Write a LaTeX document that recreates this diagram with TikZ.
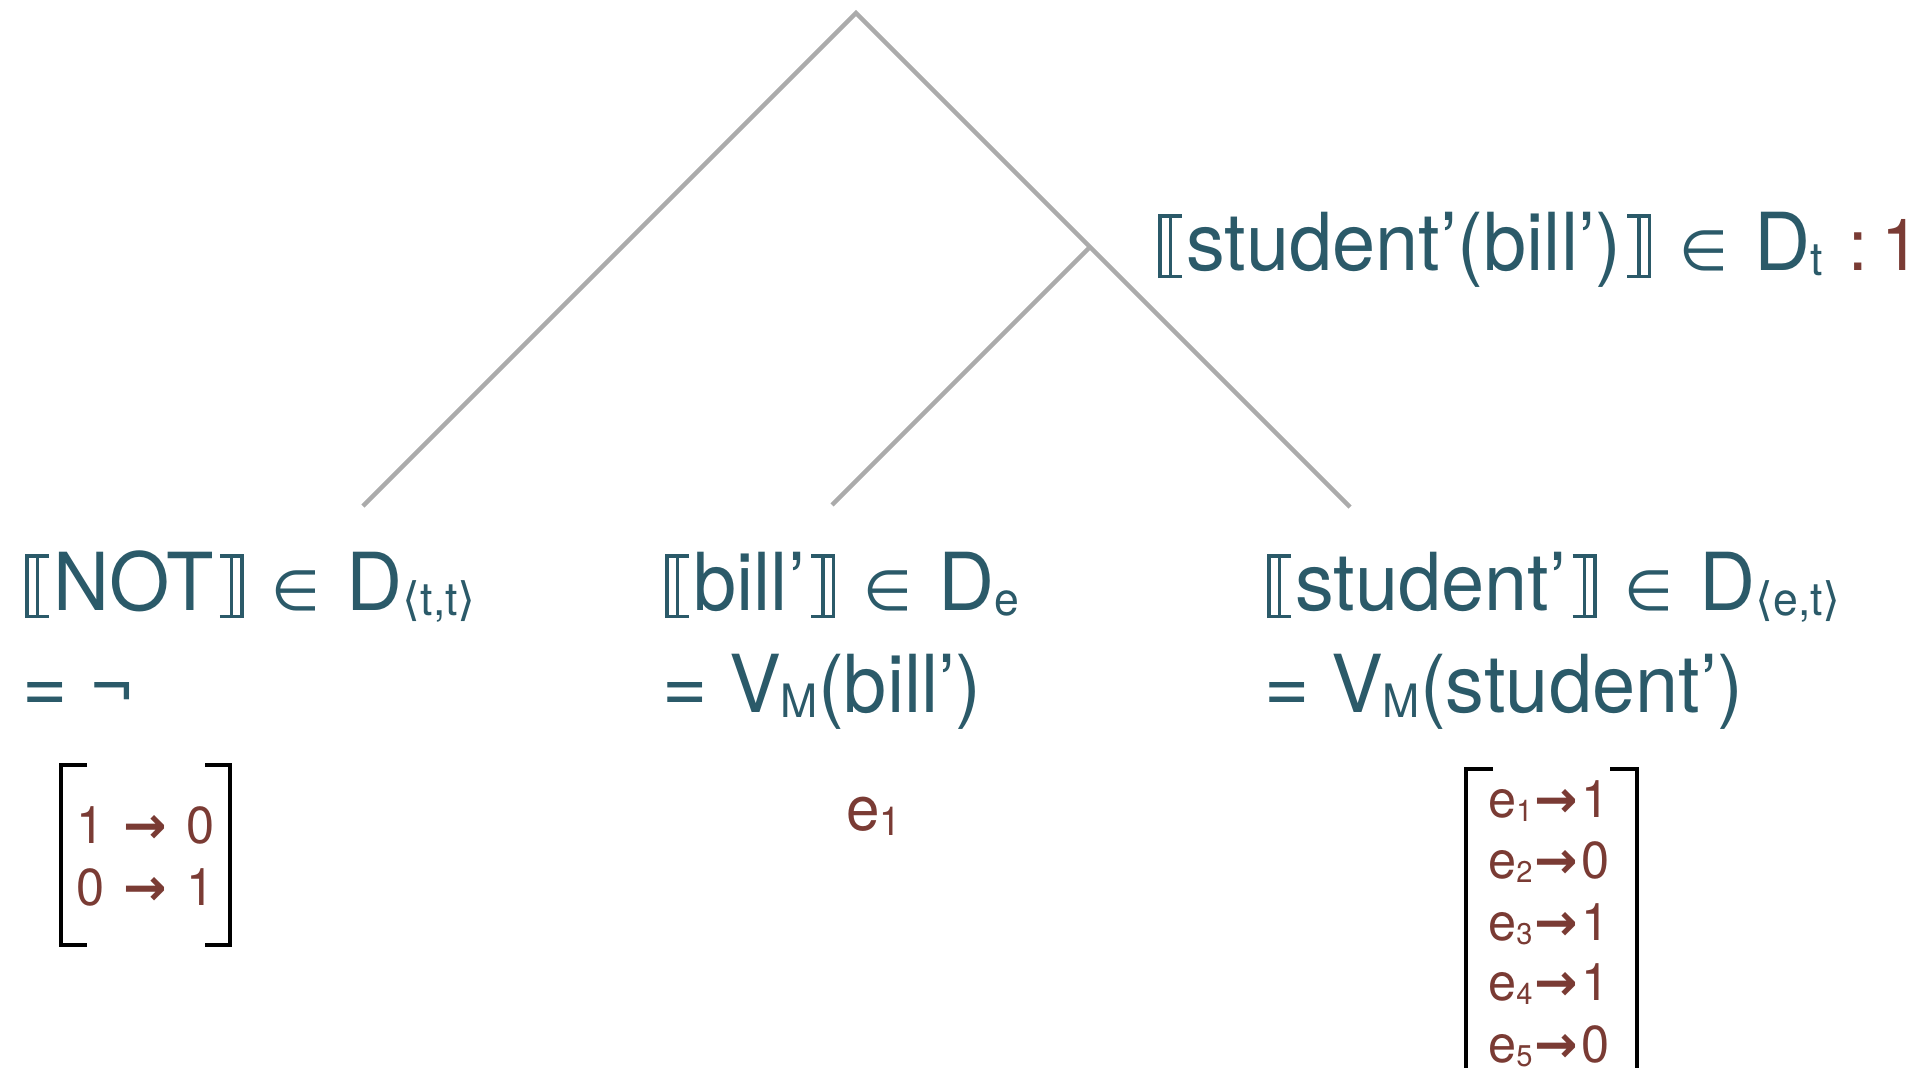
\documentclass[tikz,border=0pt]{standalone}
\usepackage{fontspec}
\setmainfont{TeX Gyre Heros}[FakeStretch=0.97]
\newfontfamily\symf{DejaVu Sans}
\definecolor{tealtxt}{HTML}{2B5A69}
\definecolor{browntxt}{HTML}{7A3B34}
\definecolor{treegray}{HTML}{ABABAB}
\newcommand{\mydbl}{\raisebox{-8pt}{\rlap{\rule{24pt}{3.5pt}}\rlap{\rule[60.5pt]{24pt}{3.5pt}}\rule{3.5pt}{64pt}\hspace{7pt}\rule{3.5pt}{64pt}}\hspace{14pt}}
\newcommand{\mydbr}{\hspace{6pt}\raisebox{-8pt}{\rlap{\rule{24pt}{3.5pt}}\rlap{\rule[60.5pt]{24pt}{3.5pt}}\hspace{10pt}\rule{3.5pt}{64pt}\hspace{7pt}\rule{3.5pt}{64pt}}}
\newcommand{\myin}{\hspace{28pt}{\fontsize{56}{56}\symf ∈}\hspace{26pt}}
\newcommand{\myarr}{{\symf\bfseries →}}
\newcommand{\mysub}[1]{\raisebox{-5pt}{\fontsize{46}{46}\selectfont #1}}
\newcommand{\esub}[1]{e\raisebox{-4pt}{\fontsize{30}{30}\selectfont #1}}
\tikzset{
  branch/.style={draw=treegray, line width=4.5pt, line join=miter},
  lbl/.style={inner sep=0pt, anchor=base west, text=tealtxt, font=\fontsize{80}{96}\selectfont},
  val/.style={inner sep=0pt, anchor=base west, text=browntxt, font=\fontsize{52}{60}\selectfont},
  brk/.style={draw=black, line width=4.5pt, line join=miter}
}
\begin{document}
\begin{tikzpicture}[x=1pt,y=-1pt]
\useasboundingbox (0,0) rectangle (1922,1068);
% tree
\coordinate (root) at (856,13);
\coordinate (vp) at (1090,247);
\coordinate (notleaf) at (363,506);
\coordinate (billleaf) at (832,505);
\coordinate (studleaf) at (1350,507);
\draw[branch] (notleaf) -- (root) -- (studleaf);
\draw[branch] (vp) -- (billleaf);
% top label
\node[lbl] (vplbl) at (1158,270) {\mydbl student’(bill’)\mydbr\myin D\mysub{t}\hspace{26pt}\textcolor{browntxt}{\fontsize{72}{80}\selectfont :\hspace{14pt}1}};
% NOT
\node[lbl] (notA) at (25,610) {\mydbl NOT\mydbr\myin D\mysub{{\symf ⟨}t,t{\symf ⟩}}};
\node[lbl] (notB) at (22,712) {= ¬};
\node[val] (notr1) at (76,843) {1\hspace{19pt}\myarr\hspace{20pt}0};
\node[val] (notr2) at (76,905) {0\hspace{19pt}\myarr\hspace{20pt}1};
\draw[brk] (87,765) -| (61,945) -- (87,945);
\draw[brk] (205,765) -| (230,945) -- (205,945);
% bill
\node[lbl] (billA) at (665,610) {\mydbl bill’\mydbr\myin D\mysub{e}};
\node[lbl] (billB) at (662,712) {= V\mysub{M}(bill’)};
\node[val, font=\fontsize{62}{70}\selectfont] (bille) at (846,830) {e\raisebox{-5pt}{\fontsize{40}{40}\selectfont 1}};
% student
\node[lbl] (studA) at (1267,610) {\mydbl student’\mydbr\myin D\mysub{{\symf ⟨}e,t{\symf ⟩}}};
\node[lbl] (studB) at (1264,712) {= V\mysub{M}(student’)};
\node[val] (sr1) at (1488,817) {\esub{1}\hspace{2pt}\myarr\hspace{3pt}1};
\node[val] (sr2) at (1488,878) {\esub{2}\hspace{2pt}\myarr\hspace{3pt}0};
\node[val] (sr3) at (1488,940) {\esub{3}\hspace{2pt}\myarr\hspace{3pt}1};
\node[val] (sr4) at (1488,1000) {\esub{4}\hspace{2pt}\myarr\hspace{3pt}1};
\node[val] (sr5) at (1488,1062) {\esub{5}\hspace{2pt}\myarr\hspace{3pt}0};
\draw[brk] (1493,769) -| (1466,1080);
\draw[brk] (1610,769) -| (1637,1080);
\end{tikzpicture}
\end{document}
